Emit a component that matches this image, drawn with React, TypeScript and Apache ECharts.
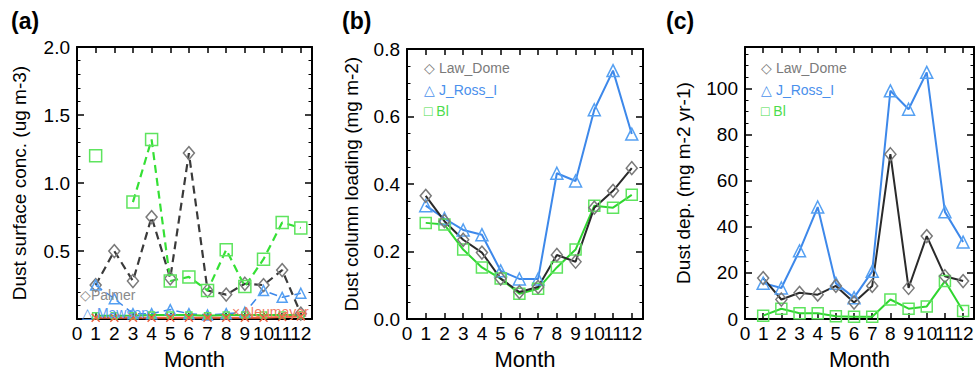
import React, { useEffect, useRef } from "react";
import * as echarts from "echarts";

// ---------- data ----------
const months = [1, 2, 3, 4, 5, 6, 7, 8, 9, 10, 11, 12];

// Panel (a): Dust surface concentration (ug m-3)
const aPalmer = [0.25, 0.5, 0.28, 0.75, 0.3, 1.22, 0.21, 0.18, 0.26, 0.25, 0.36, 0.04];
const aMawson = [0.25, 0.15, 0.04, 0.04, 0.07, 0.04, 0.03, 0.04, 0.05, 0.21, 0.16, 0.19];
const aNeumayer = [0.01, 0.01, 0.01, 0.01, 0.01, 0.01, 0.01, 0.01, 0.01, 0.01, 0.015, 0.02];
const aGreen = [1.2, null, 0.86, 1.32, 0.28, 0.31, 0.21, 0.51, 0.24, 0.44, 0.71, 0.67];
const aGreenLow = [0.025, 0.025, 0.025, 0.03, 0.03, 0.03, 0.025, 0.03, 0.03, 0.03, 0.03, 0.03];

// Panel (b): Dust column loading (mg m-2)
const bLawDome = [0.365, 0.29, 0.235, 0.197, 0.12, 0.08, 0.095, 0.19, 0.17, 0.33, 0.38, 0.447];
const bJRoss = [0.336, 0.298, 0.264, 0.25, 0.143, 0.119, 0.119, 0.432, 0.409, 0.62, 0.736, 0.548];
const bBl = [0.285, 0.28, 0.206, 0.153, 0.12, 0.075, 0.09, 0.153, 0.206, 0.336, 0.33, 0.368];

// Panel (c): Dust deposition (mg m-2 yr-1)
const cLawDome = [17.8, 8.5, 11.4, 10.6, 14.4, 7.2, 14.4, 71.5, 13.5, 36, 18.6, 16.5];
const cJRoss = [15.6, 13.5, 29.6, 48.6, 15.5, 9.3, 20.7, 99, 91, 107, 46.5, 33.4];
const cBl = [1.5, 4.5, 2.5, 2.5, 1.2, 1, 1, 8.5, 4.5, 5.5, 16.5, 3.5];

const FONT = "'Liberation Sans', Arial, Helvetica, sans-serif";

const pairs = (vals: (number | null)[]) =>
  months.map((m, i) => [m, vals[i] === null ? "-" : vals[i]]);

const isMult = (v: number, step: number) =>
  Math.abs(v / step - Math.round(v / step)) < 1e-6;

function axesFor(
  gi: number,
  yMax: number,
  yStep: number,
  dec: number,
  minorSplit: number,
  yName: string,
  nameGap: number,
  hideZero: boolean
) {
  const line = { show: true, onZero: false, lineStyle: { color: "#000", width: 2 } };
  const xBase = {
    type: "value",
    gridIndex: gi,
    min: 0,
    max: 12.6,
    interval: 1,
    axisLine: line,
    axisTick: { show: true, inside: true, length: 6, lineStyle: { color: "#000", width: 1.5 } },
    splitLine: { show: false },
  };
  const xBottom = {
    ...xBase,
    position: "bottom",
    axisLabel: {
      show: true,
      formatter: (v: number) => (isMult(v, 1) ? String(Math.round(v)) : ""),
      fontSize: 19,
      color: "#000",
      fontFamily: FONT,
      margin: 5,
    },
    name: "Month",
    nameLocation: "middle",
    nameGap: 19,
    nameTextStyle: { fontSize: 22, color: "#000", fontFamily: FONT },
  };
  const xTop = { ...xBase, position: "top", axisLabel: { show: false } };
  const yBase = {
    type: "value",
    gridIndex: gi,
    min: 0,
    max: yMax,
    interval: yStep,
    axisLine: line,
    axisTick: { show: true, inside: true, length: 7, lineStyle: { color: "#000", width: 1.5 } },
    minorTick: { show: true, splitNumber: minorSplit, length: 3.5, lineStyle: { color: "#000", width: 1 } },
    splitLine: { show: false },
    minorSplitLine: { show: false },
  };
  const yLeft = {
    ...yBase,
    position: "left",
    axisLabel: {
      show: true,
      formatter: (v: number) => {
        if (!isMult(v, yStep)) return "";
        if (hideZero && Math.abs(v) < 1e-9) return "";
        return v.toFixed(dec);
      },
      fontSize: 19,
      color: "#000",
      fontFamily: FONT,
      margin: 7,
    },
    name: yName,
    nameLocation: "middle",
    nameGap,
    nameRotate: 90,
    nameTextStyle: { fontSize: 19, color: "#000", fontFamily: FONT },
  };
  const yRight = { ...yBase, position: "right", axisLabel: { show: false } };
  return { x: [xBottom, xTop], y: [yLeft, yRight] };
}

function lineSeries(
  name: string,
  gi: number,
  vals: (number | null)[],
  color: string,
  markColor: string,
  symbol: string,
  size: number | number[],
  dashed: boolean,
  width = 2
) {
  return {
    type: "line",
    name,
    xAxisIndex: gi * 2,
    yAxisIndex: gi * 2,
    data: pairs(vals),
    connectNulls: false,
    symbol,
    symbolSize: size,
    showSymbol: symbol !== "none",
    lineStyle: { color, width, type: dashed ? [8, 5] : "solid" },
    itemStyle: { color: "rgba(0,0,0,0)", borderColor: markColor, borderWidth: 1.5 },
    emphasis: { disabled: true },
    silent: true,
  };
}

const XSYM = "path://M0 0L10 10M10 0L0 10";

function legendText(x: number, y: number, text: string, fill: string) {
  return {
    type: "text",
    x,
    y,
    z: 100,
    zlevel: 0,
    style: { text, fill, font: `14px ${FONT}`, verticalAlign: "middle", align: "left" },
    silent: true,
  };
}

function panelLabel(x: number, text: string) {
  return {
    type: "text",
    x,
    y: 21,
    z: 100,
    style: { text, fill: "#000", font: `bold 23px ${FONT}`, verticalAlign: "middle", align: "left" },
    silent: true,
  };
}

export default function App() {
  const ref = useRef<HTMLDivElement>(null);
  useEffect(() => {
    if (!ref.current) return;
    const chart = echarts.init(ref.current, undefined, { renderer: "svg" });
    const A = axesFor(0, 2.0, 0.5, 1, 5, "Dust surface conc. (ug m-3)", 48, true);
    const B = axesFor(1, 0.8, 0.2, 1, 4, "Dust column loading (mg m-2)", 46, false);
    const C = axesFor(2, 118, 20, 0, 4, "Dust dep. (mg m-2 yr-1)", 52, false);

    const gray = "#2a2a2a";
    const diamondC = "#7a7a7a";
    const blue = "#3d88ea";
    const blueM = "#55a0f2";
    const green = "#2fd62f";
    const greenM = "#5ee45e";
    const red = "#f0603f";

    const option: any = {
      animation: false,
      backgroundColor: "#fff",
      grid: [
        { left: 77, top: 47, width: 235, height: 280 },
        { left: 407, top: 49, width: 236, height: 278 },
        { left: 745, top: 47, width: 234, height: 280 },
      ],
      xAxis: [...A.x, ...B.x, ...C.x],
      yAxis: [...A.y, ...B.y, ...C.y],
      series: [
        // panel (a)
        lineSeries("Palmer", 0, aPalmer, "#3a3a3a", diamondC, "diamond", [11, 13], true, 2.2),
        lineSeries("Green station", 0, aGreen, "#35e035", greenM, "rect", 12, true, 2.2),
        lineSeries("Mawson", 0, aMawson, blue, blueM, "triangle", 10, true, 1.5),
        lineSeries("Green model", 0, aGreenLow, green, greenM, "rect", 6, false),
        lineSeries("Neumayer", 0, aNeumayer, red, red, XSYM, 8, false),
        // panel (b)
        lineSeries("J_Ross_I", 1, bJRoss, blue, blueM, "triangle", 12, false),
        lineSeries("Bl", 1, bBl, green, greenM, "rect", 11, false),
        lineSeries("Law_Dome", 1, bLawDome, gray, diamondC, "diamond", [11, 13], false),
        // panel (c)
        lineSeries("J_Ross_I", 2, cJRoss, blue, blueM, "triangle", 12, false),
        lineSeries("Bl", 2, cBl, green, greenM, "rect", 11, false),
        lineSeries("Law_Dome", 2, cLawDome, gray, diamondC, "diamond", [11, 13], false),
      ],
      graphic: {
        elements: [
          panelLabel(11, "(a)"),
          panelLabel(342, "(b)"),
          panelLabel(666, "(c)"),
          legendText(80, 295, "◇Palmer", "#8a8a8a"),
          legendText(82, 313, "△ Mawson", "#5a9cf0"),
          legendText(232, 312, "× Neumayer", "#f07a60"),
          legendText(424, 68, "◇ Law_Dome", "#7a7a7a"),
          legendText(424, 90, "△ J_Ross_I", "#4a90ec"),
          legendText(424, 111, "□ Bl", "#4cdc4c"),
          legendText(761, 68, "◇ Law_Dome", "#7a7a7a"),
          legendText(761, 90, "△ J_Ross_I", "#4a90ec"),
          legendText(761, 111, "□ Bl", "#4cdc4c"),
        ],
      },
    };
    chart.setOption(option);
    return () => chart.dispose();
  }, []);
  return (
    <div
      ref={ref}
      style={{ position: "absolute", left: 0, top: 0, width: 977, height: 375, background: "#fff" }}
    />
  );
}
